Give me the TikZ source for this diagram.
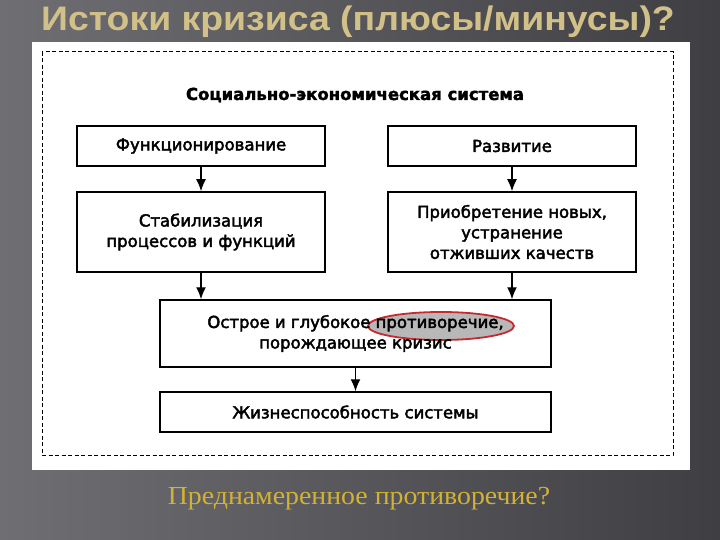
\documentclass[tikz,border=0pt]{standalone}
\usepackage{fontspec}
\setmainfont{DejaVu Sans}
\newfontfamily\boxfont[FakeBold=2.6]{DejaVu Sans}
\newfontfamily\headfont[FakeBold=2]{DejaVu Sans Bold}
\newfontfamily\titlefont[FakeStretch=1.1]{Liberation Sans}
\newfontfamily\notefont[FakeStretch=1.07]{Liberation Serif}
\usetikzlibrary{shapes.geometric,arrows.meta}
\definecolor{bgleft}{HTML}{6E6E73}
\definecolor{bgright}{HTML}{3E3E43}
\definecolor{titletan}{HTML}{D1C088}
\definecolor{notegold}{HTML}{D2B234}
\definecolor{markred}{HTML}{C42A30}

\begin{document}
\begin{tikzpicture}[x=1pt,y=-1pt,
    box/.style={draw, line width=1.5pt, align=center, inner sep=0pt,
                font=\boxfont\fontsize{16.5}{20.5}\selectfont},
    link/.style={line width=1.4pt, -{Latex[length=12pt,width=10pt]}}]
    \useasboundingbox (0,0) rectangle (720,540);
    % slide background and scanned sheet
    \fill[left color=bgleft, right color=bgright] (0,0) rectangle (720,540);
    \fill[white] (32,42) rectangle (690,470);
    \draw[line width=1pt, dash pattern=on 4pt off 2.5pt] (42,52) rectangle (673,455);

    % title and closing question
    \node[text=titletan, font=\titlefont\bfseries\fontsize{34}{34}\selectfont] (title) at (358,22) {Истоки кризиса (плюсы/минусы)?};
    \node[text=notegold, font=\notefont\fontsize{26}{26}\selectfont] (note) at (359,499) {Преднамеренное противоречие?};

    % highlight behind the word
    \node[ellipse, draw=markred, line width=1.8pt, fill=black!28, minimum width=146pt, minimum height=28pt] (mark) at (441,326) {};

    % boxes
    \node[font=\headfont\fontsize{16.5}{20}\selectfont] (head) at (355,95) {Социально-экономическая система};
    \node[box, minimum width=248pt, minimum height=40pt] (func) at (201,146) {Функционирование};
    \node[box, minimum width=248pt, minimum height=40pt] (dev) at (512,146) {Развитие};
    \node[box, minimum width=248pt, minimum height=80pt] (stab) at (201,232) {Стабилизация\\процессов и функций};
    \node[box, minimum width=248pt, minimum height=80pt] (gain) at (512,232) {Приобретение новых,\\устранение\\отживших качеств};
    \node[box, minimum width=391pt, minimum height=67pt] (contr) at (355.5,333.5) {Острое и глубокое противоречие,\\порождающее кризис};
    \node[box, minimum width=391pt, minimum height=40pt] (life) at (355.5,412) {Жизнеспособность системы};

    % arrows
    \draw[link] (func) -- (stab);
    \draw[link] (dev) -- (gain);
    \draw[link] (stab.south) -- (stab.south |- contr.north);
    \draw[link] (gain.south) -- (gain.south |- contr.north);
    \draw[link] (contr) -- (life);
\end{tikzpicture}
\end{document}
